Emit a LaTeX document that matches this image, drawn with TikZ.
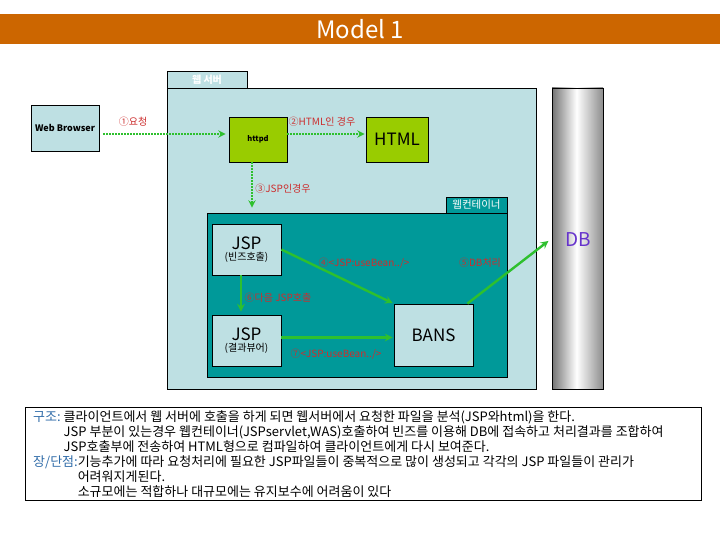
\documentclass[tikz,border=0pt]{standalone}
\usepackage{fontspec}
\setmainfont{Noto Sans CJK KR}
\definecolor{titlefill}{HTML}{CC6600}
\definecolor{serverfill}{HTML}{BEE0E3}
\definecolor{wasfill}{HTML}{009999}
\definecolor{httpdfill}{HTML}{99CC00}
\definecolor{flowline}{HTML}{2EC02E}
\definecolor{steptext}{HTML}{CC2E2E}
\definecolor{dbtext}{HTML}{6633CC}
\definecolor{notehead}{HTML}{2F6BA8}
\pgfdeclarehorizontalshading{dbshade}{100bp}{color(0bp)=(black!55); color(25bp)=(black!55);
 color(49bp)=(white); color(75bp)=(black!45); color(100bp)=(black!45)}

\begin{document}
\begin{tikzpicture}[x=1pt,y=-1pt,>=stealth,
 every node/.style={inner sep=2pt},
 box/.style={draw=black,line width=.8pt,align=center},
 flow/.style={->,draw=flowline,line width=2.4pt},
 dotflow/.style={flow,line width=2.2pt,dash pattern=on 1.6pt off 1.4pt},
 steplbl/.style={font=\fontsize{10}{11}\selectfont,text=steptext},
 notetxt/.style={font=\fontsize{13}{15}\selectfont,anchor=north west,inner sep=0pt}]
\useasboundingbox (0,0) rectangle (720,540);
\node[fill=titlefill,minimum width=720pt,minimum height=30pt,text=white,font=\fontsize{24}{26}\selectfont] (title) at (360,29) {Model 1};
% web server
\node[box,fill=serverfill,minimum width=80pt,minimum height=17pt,text=white,font=\fontsize{10}{11}\selectfont\bfseries] (servertab) at (207,79.5) {웹 서버};
\node[box,fill=serverfill,minimum width=369pt,minimum height=301pt] (server) at (351.5,238.5) {};
\node[box,fill=serverfill,minimum width=68pt,minimum height=46pt,font=\fontsize{9}{10}\selectfont\bfseries] (web) at (65,128) {Web Browser};
\node[box,fill=httpdfill,minimum width=58pt,minimum height=45pt,font=\fontsize{7.5}{9}\selectfont\bfseries] (httpd) at (258,139.5) {httpd};
\node[box,fill=httpdfill,minimum width=62pt,minimum height=45pt,font=\fontsize{17}{19}\selectfont] (html) at (397,139.5) {HTML};
% web container
\node[box,fill=wasfill,minimum width=61pt,minimum height=16pt,text=white,font=\fontsize{10.5}{12}\selectfont] (wastab) at (476.5,205) {웹컨테이너};
\node[box,fill=wasfill,minimum width=300pt,minimum height=164pt] (was) at (357,295) {};
\node[box,fill=serverfill,minimum width=69pt,minimum height=51pt] (jspa) at (246.5,249.5)
 {{\fontsize{17}{19}\selectfont JSP}\\[-1pt]{\fontsize{10}{11}\selectfont (빈즈호출)}};
\node[box,fill=serverfill,minimum width=69pt,minimum height=51pt] (jspb) at (246.5,340.5)
 {{\fontsize{17}{19}\selectfont JSP}\\[-1pt]{\fontsize{10}{11}\selectfont (결과뷰어)}};
\node[box,fill=serverfill,minimum width=79pt,minimum height=62pt,font=\fontsize{17}{19}\selectfont] (bans) at (433.5,335) {BANS};
% database
\node[box,shading=dbshade,minimum width=51pt,minimum height=301pt] (db) at (577.5,238.5) {};
\node[text=dbtext,font=\fontsize{19}{21}\selectfont] (dblbl) at (578,240) {DB};
% connectors
\draw[dotflow,shorten <=4pt,shorten >=3pt] ([yshift=-6pt]web.east) -- ([yshift=5.5pt]httpd.west);
\draw[dotflow,shorten >=1pt] ([yshift=5.5pt]httpd.east) -- ([yshift=5.5pt]html.west);
\draw[dotflow,shorten >=5pt] ([xshift=-6pt]httpd.south) -- ([xshift=-6pt]httpd.south |- was.north);
\draw[flow,shorten >=1pt] (jspa.east) -- (bans.north west);
\draw[flow,shorten >=4pt] ([xshift=-6pt]bans.north east) -- (db.west);
\draw[flow,shorten >=3pt] ([xshift=-5.5pt]jspa.south) -- ([xshift=-5.5pt]jspb.north);
\draw[flow,shorten >=1pt] ([yshift=3pt]jspb.east) -- ([yshift=3pt]jspb.east -| bans.west);
\node[steplbl] (req) at (133,122) {①요청};
\node[steplbl] (ishtml) at (322,122) {②HTML인 경우};
\node[steplbl] (isjsp) at (283,189) {③JSP인경우};
\node[steplbl] (usea) at (364,263) {④<JSP:useBean../>};
\node[steplbl] (dbwork) at (480,263) {⑤DB처리};
\node[steplbl] (nextjsp) at (278,298) {⑥다음 JSP호출};
\node[steplbl] (useb) at (336,354) {⑦<JSP:useBean../>};
% notes
\node[box,line width=.7pt,minimum width=676pt,minimum height=93pt] (note) at (363,453.5) {};
\node[notetxt] (struct) at (33,410) {\begin{tabular}{@{}l@{}l@{}}
 \textcolor{notehead}{구조:}\hspace{3pt} & 클라이언트에서 웹 서버에 호출을 하게 되면 웹서버에서 요청한 파일을 분석(JSP와html)을 한다.\\
 & JSP 부분이 있는경우 웹컨테이너(JSPservlet,WAS)호출하여 빈즈를 이용해 DB에 접속하고 처리결과를 조합하여\\
 & JSP호출부에 전송하여 HTML형으로 컴파일하여 클라이언트에게 다시 보여준다.
 \end{tabular}};
\node[notetxt] (merit) at (33,455) {\begin{tabular}{@{}l@{}l@{}}
 \textcolor{notehead}{장/단점:} & 기능추가에 따라 요청처리에 필요한 JSP파일들이 중복적으로 많이 생성되고 각각의 JSP 파일들이 관리가\\
 & 어려워지게된다.\\
 & 소규모에는 적합하나 대규모에는 유지보수에 어려움이 있다
 \end{tabular}};
\end{tikzpicture}
\end{document}
